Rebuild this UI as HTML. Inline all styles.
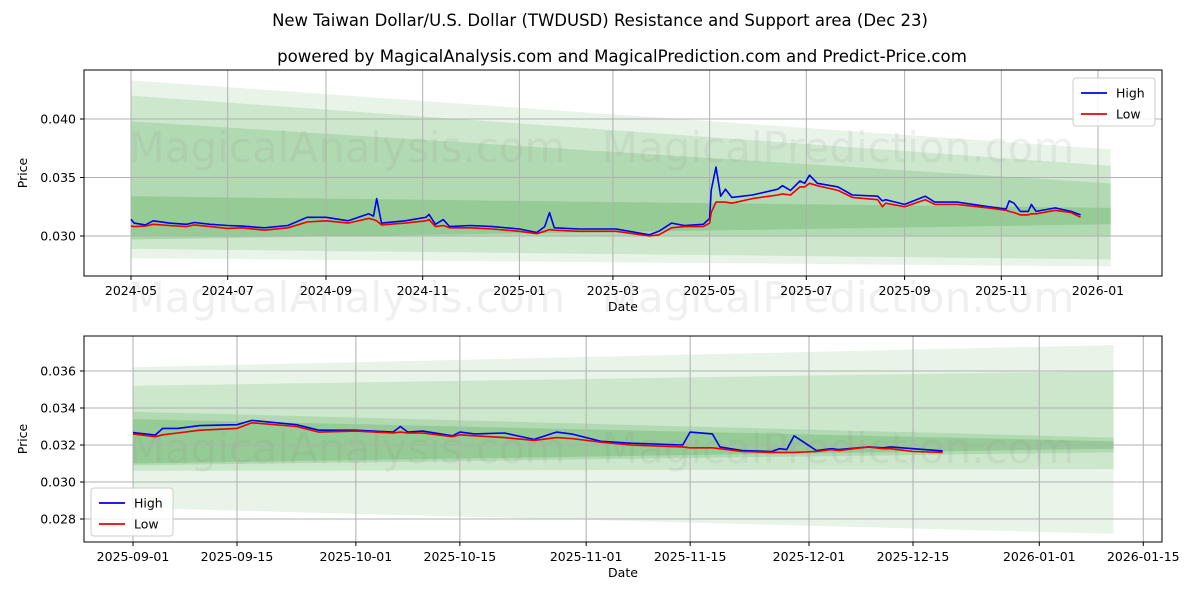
<!DOCTYPE html>
<html><head><meta charset="utf-8">
<style>
html,body{margin:0;padding:0;background:#fff;}
svg{display:block;font-family:"DejaVu Sans","Liberation Sans",sans-serif;}
</style></head>
<body>
<svg id="chart" width="1200" height="600" viewBox="0 0 1200 600" xmlns="http://www.w3.org/2000/svg">
<rect x="0" y="0" width="1200" height="600" fill="#fff"/>
<text x="600" y="26" text-anchor="middle" font-size="16.5" fill="#000">New Taiwan Dollar/U.S. Dollar (TWDUSD) Resistance and Support area (Dec 23)</text>
<text x="622" y="62" text-anchor="middle" font-size="16.6" fill="#000">powered by MagicalAnalysis.com and MagicalPrediction.com and Predict-Price.com</text>
<g id="top"></g>
<g id="bot"></g>
</svg>
<script>
// ---- top chart data ----
const topDates = ["2024-05-01","2024-05-03","2024-05-10","2024-05-15","2024-05-25","2024-06-05","2024-06-10","2024-06-20","2024-07-01","2024-07-10","2024-07-24","2024-08-08","2024-08-20","2024-09-01","2024-09-15","2024-09-28","2024-10-01","2024-10-03","2024-10-06","2024-10-21","2024-11-03","2024-11-05","2024-11-09","2024-11-14","2024-11-18","2024-12-01","2024-12-15","2025-01-01","2025-01-12","2025-01-17","2025-01-20","2025-01-23","2025-02-08","2025-03-03","2025-03-24","2025-03-30","2025-04-07","2025-04-15","2025-04-27","2025-05-01","2025-05-02","2025-05-05","2025-05-08","2025-05-11","2025-05-15","2025-05-28","2025-06-13","2025-06-16","2025-06-21","2025-06-27","2025-06-30","2025-07-03","2025-07-08","2025-07-21","2025-07-30","2025-08-15","2025-08-18","2025-08-20","2025-09-01","2025-09-14","2025-09-20","2025-10-04","2025-10-24","2025-11-04","2025-11-06","2025-11-09","2025-11-13","2025-11-18","2025-11-20","2025-11-23","2025-12-05","2025-12-15","2025-12-21"];
const topHigh = [.03143,.03110,.03095,.03130,.03110,.03100,.03115,.03100,.03090,.03085,.03070,.03090,.03160,.03160,.03130,.03190,.03170,.03320,.03110,.03130,.03160,.03185,.03100,.03140,.03080,.03090,.03080,.03060,.03030,.03080,.03200,.03070,.03060,.03060,.03010,.03040,.03110,.03090,.03100,.03150,.03390,.03590,.03340,.03400,.03330,.03350,.03400,.03430,.03390,.03470,.03450,.03520,.03450,.03420,.03350,.03340,.03300,.03310,.03270,.03340,.03290,.03290,.03250,.03230,.03300,.03280,.03210,.03210,.03270,.03210,.03240,.03210,.03180];
const topLow = [.03085,.03080,.03085,.03100,.03090,.03080,.03095,.03080,.03065,.03070,.03050,.03070,.03120,.03130,.03110,.03150,.03140,.03130,.03095,.03110,.03130,.03140,.03080,.03090,.03070,.03070,.03060,.03040,.03020,.03040,.03055,.03050,.03040,.03040,.03000,.03010,.03070,.03080,.03080,.03110,.03200,.03290,.03290,.03290,.03280,.03320,.03350,.03360,.03350,.03420,.03420,.03450,.03430,.03390,.03330,.03310,.03250,.03280,.03250,.03310,.03270,.03270,.03240,.03220,.03210,.03200,.03180,.03180,.03190,.03190,.03220,.03200,.03160];
const topBandStart = ["2024-05-01"];
const topBandEnd = ["2026-01-09"];
const topBandLo0 = [.0281,.0289,.0300,.0297];
const topBandHi0 = [.0433,.0420,.0398,.0334];
const topBandLo1 = [.0274,.0280,.0300,.0310];
const topBandHi1 = [.0374,.0360,.0345,.0324];
const topYTicks = [0.030,0.035,0.040];
const topYLabels = ["0.030","0.035","0.040"];
const topXTicks = ["2024-05-01","2024-07-01","2024-09-01","2024-11-01","2025-01-01","2025-03-01","2025-05-01","2025-07-01","2025-09-01","2025-11-01","2026-01-01"];
const topXLabels = ["2024-05","2024-07","2024-09","2024-11","2025-01","2025-03","2025-05","2025-07","2025-09","2025-11","2026-01"];

// ---- bottom chart data ----
const botDates = ["2025-09-01","2025-09-04","2025-09-05","2025-09-07","2025-09-10","2025-09-15","2025-09-17","2025-09-23","2025-09-26","2025-10-01","2025-10-06","2025-10-07","2025-10-08","2025-10-10","2025-10-14","2025-10-15","2025-10-17","2025-10-21","2025-10-25","2025-10-28","2025-10-30","2025-11-03","2025-11-07","2025-11-14","2025-11-15","2025-11-18","2025-11-19","2025-11-22","2025-11-26","2025-11-27","2025-11-28","2025-11-29","2025-12-02","2025-12-04","2025-12-05","2025-12-09","2025-12-11","2025-12-12","2025-12-15","2025-12-19"];
const botHigh = [.03267,.03254,.03290,.03290,.03305,.03310,.03333,.03310,.03280,.03280,.03270,.03300,.03270,.03275,.03250,.03270,.03260,.03265,.03230,.03270,.03260,.03220,.03210,.03200,.03270,.03260,.03190,.03170,.03165,.03180,.03175,.03250,.03170,.03180,.03175,.03190,.03185,.03190,.03180,.03168];
const botLow = [.03260,.03245,.03255,.03265,.03280,.03290,.03320,.03300,.03270,.03275,.03265,.03270,.03265,.03265,.03245,.03255,.03250,.03240,.03225,.03240,.03235,.03215,.03200,.03190,.03185,.03185,.03180,.03165,.03160,.03160,.03160,.03160,.03165,.03175,.03170,.03190,.03180,.03180,.03165,.03160];
const botBandStart = ["2025-09-01"];
const botBandEnd = ["2026-01-11"];
const botBandLo0 = [.0286,.0306,.0309,.0310];
const botBandHi0 = [.0362,.0352,.0338,.0334];
const botBandLo1 = [.0272,.0307,.0316,.0318];
const botBandHi1 = [.0374,.0360,.0324,.0322];
const botYTicks = [0.028,0.030,0.032,0.034,0.036];
const botYLabels = ["0.028","0.030","0.032","0.034","0.036"];
const botXTicks = ["2025-09-01","2025-09-15","2025-10-01","2025-10-15","2025-11-01","2025-11-15","2025-12-01","2025-12-15","2026-01-01","2026-01-15"];
const botXLabels = ["2025-09-01","2025-09-15","2025-10-01","2025-10-15","2025-11-01","2025-11-15","2025-12-01","2025-12-15","2026-01-01","2026-01-15"];

const NS="http://www.w3.org/2000/svg";
const day = s => Date.parse(s+"T00:00:00Z")/86400000;
function mk(parent, tag, attrs){const e=document.createElementNS(NS,tag);for(const k in attrs)e.setAttribute(k,attrs[k]);parent.appendChild(e);return e;}
const bandAlpha=[0.11,0.14,0.17,0.22];

function panel(g, cfg){
  const {L,R,T,B,d0,px0,pxPerDay,v0,py0,pxPerVal}=cfg;
  const X = d => px0 + (day(d)-day(d0))*pxPerDay;
  const Y = v => py0 - (v-v0)*pxPerVal;
  const cp = mk(g,'clipPath',{id:cfg.id+'-clip'});
  mk(cp,'rect',{x:L,y:T,width:R-L,height:B-T});
  const bg = mk(g,'g',{'clip-path':`url(#${cfg.id}-clip)`});
  for(let i=0;i<cfg.lo0.length;i++){
    const xa=X(cfg.bs[0]), xb=X(cfg.be[0]);
    const p=mk(bg,'polygon',{points:`${xa},${Y(cfg.hi0[i])} ${xb},${Y(cfg.hi1[i])} ${xb},${Y(cfg.lo1[i])} ${xa},${Y(cfg.lo0[i])}`,fill:'#2e9a2e','fill-opacity':bandAlpha[i]});
    
    
  }
  cfg.wm.forEach(w=>{
    const t=mk(g,'text',{x:w[0],y:w[1],'font-size':42,fill:'#888','fill-opacity':0.13,'text-anchor':'middle'});
    t.textContent=w[2];
    
    
  });
  cfg.yt.forEach((v,i)=>{
    const y=Y(v);
    mk(g,'line',{x1:L,x2:R,y1:y,y2:y,stroke:'#b0b0b0','stroke-width':1});
    mk(g,'line',{x1:L-4,x2:L,y1:y,y2:y,stroke:'#000'});
    const t=mk(g,'text',{x:L-8,y:y+4.5,'font-size':12.5,'text-anchor':'end'});
    t.textContent=cfg.yl[i];
    
    
  });
  cfg.xt.forEach((d,i)=>{
    const x=X(d);
    mk(g,'line',{x1:x,x2:x,y1:T,y2:B,stroke:'#b0b0b0','stroke-width':1});
    mk(g,'line',{x1:x,x2:x,y1:B,y2:B+4,stroke:'#000'});
    const t=mk(g,'text',{x:x,y:B+19,'font-size':12.5,'text-anchor':'middle'});
    t.textContent=cfg.xl[i];
    
    
  });
  const lg=mk(g,'g',{'clip-path':`url(#${cfg.id}-clip)`});
  [[cfg.hi,'#0000ee','high-line'],[cfg.lo,'#ee0000','low-line']].forEach(s=>{
    const pts=cfg.dates.map((d,i)=>X(d).toFixed(1)+','+Y(s[0][i]).toFixed(1)).join(' ');
    const pl=mk(lg,'polyline',{points:pts,fill:'none',stroke:s[1],'stroke-width':1.6,'stroke-linejoin':'round'});
    
    
  });
  const fr=mk(g,'rect',{x:L,y:T,width:R-L,height:B-T,fill:'none',stroke:'#000','stroke-width':1});
  
  
  const xt=mk(g,'text',{x:(L+R)/2,y:B+35,'font-size':12.5,'text-anchor':'middle'});
  xt.textContent='Date';
  
  
  const yc=(T+B)/2;
  const yt=mk(g,'text',{x:0,y:0,'font-size':12.5,'text-anchor':'middle',transform:`translate(${cfg.ytx},${yc}) rotate(-90)`});
  yt.textContent='Price';
  
  
  const [lx,ly]=cfg.leg;
  const lgd=mk(g,'g',{});
  
  
  mk(lgd,'rect',{x:lx,y:ly,width:82,height:48,rx:3,fill:'#fff','fill-opacity':0.85,stroke:'#ccc'});
  [['High','#0000ee'],['Low','#ee0000']].forEach((e,i)=>{
    const yy=ly+14+i*21;
    const en=mk(lgd,'g',{});
    
    
    mk(en,'line',{x1:lx+8,x2:lx+34,y1:yy+1,y2:yy+1,stroke:e[1],'stroke-width':1.8});
    const t=mk(en,'text',{x:lx+43,y:yy+5.5,'font-size':12.5});
    t.textContent=e[0];
  });
}

panel(document.getElementById('top'),{id:'top',L:84,R:1162,T:70,B:276,d0:'2024-05-01',px0:131,pxPerDay:967/610,v0:0.030,py0:236,pxPerVal:11700,
  dates:topDates,hi:topHigh,lo:topLow,bs:topBandStart,be:topBandEnd,lo0:topBandLo0,hi0:topBandHi0,lo1:topBandLo1,hi1:topBandHi1,
  yt:topYTicks,yl:topYLabels,xt:topXTicks,xl:topXLabels,ytx:27,leg:[1073,78],
  wm:[[347,162,'MagicalAnalysis.com'],[838,162,'MagicalPrediction.com'],[347,312,'MagicalAnalysis.com'],[838,312,'MagicalPrediction.com']]});
panel(document.getElementById('bot'),{id:'bot',L:84,R:1162,T:336,B:542,d0:'2025-09-01',px0:133,pxPerDay:104/14,v0:0.032,py0:445,pxPerVal:18500,
  dates:botDates,hi:botHigh,lo:botLow,bs:botBandStart,be:botBandEnd,lo0:botBandLo0,hi0:botBandHi0,lo1:botBandLo1,hi1:botBandHi1,
  yt:botYTicks,yl:botYLabels,xt:botXTicks,xl:botXLabels,ytx:27,leg:[91,488],
  wm:[[347,463,'MagicalAnalysis.com'],[838,463,'MagicalPrediction.com']]});
</script>
</body></html>
